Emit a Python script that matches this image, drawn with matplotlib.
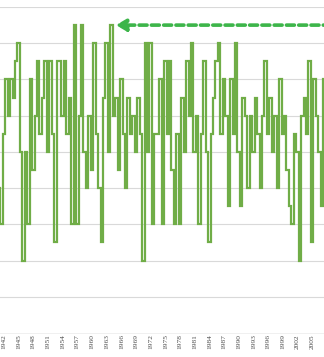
import matplotlib
matplotlib.use("Agg")
import matplotlib.pyplot as plt

# half-yearly points starting 1941
start_year = 1941.0
values = [6, 4, 9, 12, 10, 12, 11, 13, 14, 8,
          2, 8, 4, 12, 7, 10, 13, 9, 11, 13,
          8, 13, 9, 3, 13, 13, 10, 13, 9, 11,
          4, 15, 4, 10, 15, 8, 6, 10, 7, 14,
          9, 6, 3, 11, 14, 8, 15, 10, 11, 7,
          12, 9, 6, 11, 9, 10, 8, 11, 9, 2,
          14, 8, 14, 4, 9, 9, 12, 4, 13, 9,
          13, 7, 4, 9, 4, 11, 8, 13, 10, 14,
          8, 10, 4, 9, 13, 8, 3, 9, 11, 13,
          14, 9, 12, 10, 5, 12, 9, 14, 8, 5,
          11, 10, 6, 10, 8, 11, 9, 6, 10, 13,
          9, 11, 8, 10, 6, 12, 9, 10, 7, 5,
          4, 9, 8, 2, 10, 11, 9, 13, 3, 12,
          10, 8, 5, 12, 9]
years = [start_year + 0.5 * i for i in range(len(values))]

tick_years = list(range(1942, 2006, 3))
arrow_level = 15

fig = plt.figure(figsize=(3.24, 3.57), dpi=100)
ax = fig.add_axes([0, 1 - 333 / 357, 1, (333 - 7) / 357])

ax.plot(years, values, color="#70AD47", linewidth=1.6,
        drawstyle="steps-mid", solid_joinstyle="miter")

ax.set_xlim(1942 - 4 / 4.89, 1942 + 320 / 4.89)
ax.set_ylim(-2, 16)
ax.set_yticks(range(0, 17, 2))
ax.yaxis.grid(True, color="#D9D9D9", linewidth=0.8)
ax.set_axisbelow(True)
for s in ax.spines.values():
    s.set_visible(False)
ax.spines["bottom"].set_visible(True)
ax.spines["bottom"].set_color("#EEEEEE")
ax.spines["bottom"].set_linewidth(0.6)
ax.tick_params(axis="y", left=False, labelleft=False)

ax.set_xticks(tick_years)
ax.set_xticklabels([str(y) for y in tick_years], rotation=90,
                   fontsize=5.3, color="#4D4D4D", family="Liberation Serif")
ax.tick_params(axis="x", length=0, pad=0.8)

# dashed arrow pointing back left
ax.annotate("", xy=(1942 + 109 / 4.89, arrow_level),
            xytext=(1942 + 330 / 4.89, arrow_level),
            arrowprops=dict(arrowstyle="-|>,head_length=0.6,head_width=0.35",
                            color="#3DB54A", lw=2.6, linestyle=(0, (2.2, 1.2))),
            annotation_clip=False)

fig.savefig("out.png", dpi=100)
